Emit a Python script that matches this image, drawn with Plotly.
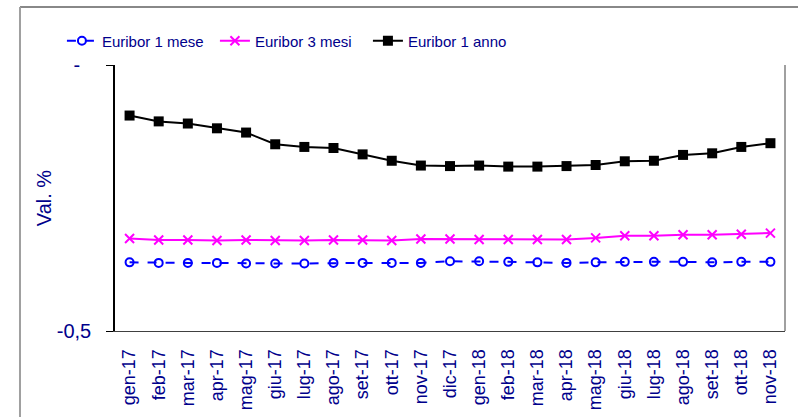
import plotly.graph_objects as go

months = ["gen-17", "feb-17", "mar-17", "apr-17", "mag-17", "giu-17", "lug-17", "ago-17",
          "set-17", "ott-17", "nov-17", "dic-17", "gen-18", "feb-18", "mar-18", "apr-18",
          "mag-18", "giu-18", "lug-18", "ago-18", "set-18", "ott-18", "nov-18"]

euribor_1m = [-0.371, -0.372, -0.372, -0.372, -0.373, -0.373, -0.373, -0.372, -0.372, -0.372,
              -0.372, -0.369, -0.369, -0.370, -0.371, -0.372, -0.371, -0.370, -0.370, -0.370,
              -0.371, -0.370, -0.370]
euribor_3m = [-0.326, -0.329, -0.329, -0.330, -0.329, -0.330, -0.330, -0.329, -0.329, -0.330,
              -0.327, -0.327, -0.328, -0.328, -0.328, -0.328, -0.325, -0.321, -0.321, -0.319,
              -0.319, -0.318, -0.316]
euribor_12m = [-0.095, -0.106, -0.110, -0.119, -0.127, -0.149, -0.154, -0.156, -0.168, -0.180,
               -0.189, -0.190, -0.189, -0.191, -0.191, -0.190, -0.188, -0.181, -0.180, -0.169,
               -0.166, -0.154, -0.147]

y_tickvals = [-0.5, 0]
y_ticktext = ["-0,5", "-\u00a0\u00a0"]

NAVY = "#00008B"
FONT = "Liberation Sans, Arial, sans-serif"

fig = go.Figure()
fig.add_trace(go.Scatter(
    x=months, y=euribor_1m, name="Euribor 1 mese", mode="lines+markers",
    line=dict(color="#0000FF", width=2, dash="dash"),
    marker=dict(symbol="circle-open", size=8, color="#0000FF", line=dict(width=2)),
))
fig.add_trace(go.Scatter(
    x=months, y=euribor_3m, name="Euribor 3 mesi", mode="lines+markers",
    line=dict(color="#FF00FF", width=2),
    marker=dict(symbol="x-thin-open", size=9, color="#FF00FF", line=dict(width=2, color="#FF00FF")),
))
fig.add_trace(go.Scatter(
    x=months, y=euribor_12m, name="Euribor 1 anno", mode="lines+markers",
    line=dict(color="#000000", width=2),
    marker=dict(symbol="square", size=10, color="#000000"),
))

n = len(months)
fig.update_layout(
    width=798, height=417,
    margin=dict(l=115, r=13, t=65, b=86),
    paper_bgcolor="white", plot_bgcolor="white",
    font=dict(family=FONT, color=NAVY),
    showlegend=True,
    legend=dict(
        orientation="h", xref="container", yref="container",
        x=0.0776, y=1 - 41 / 417, xanchor="left", yanchor="middle",
        font=dict(family=FONT, size=15, color=NAVY),
        entrywidth=108, bgcolor="rgba(0,0,0,0)",
    ),
    xaxis=dict(
        type="category", range=[-0.5, n - 0.5], automargin=False,
        showline=True, linecolor="#404040", linewidth=1,
        ticks="", showgrid=False, zeroline=False,
        tickangle=-90, tickfont=dict(size=18, color=NAVY),
        ticklabelstandoff=10,
    ),
    xaxis2=dict(
        overlaying="x", side="top", anchor="y", range=[-0.5, n - 0.5], automargin=False,
        tickmode="array", tickvals=[i + 0.5 for i in range(n - 1)],
        ticks="inside", ticklen=4, tickcolor="#808080", tickwidth=1,
        showticklabels=False, showline=True, linecolor="#000000", linewidth=1.5,
        showgrid=False, zeroline=False,
    ),
    yaxis=dict(
        range=[-0.5, 0], tickmode="array", tickvals=y_tickvals, ticktext=y_ticktext,
        automargin=False,
        showline=True, linecolor="#000000", linewidth=1.5,
        ticks="outside", ticklen=7, tickcolor="#000000",
        showgrid=False, zeroline=False,
        tickfont=dict(size=20, color=NAVY), ticklabelstandoff=11,
        title=dict(text="Val. %", font=dict(size=20, color=NAVY), standoff=0),
    ),
    shapes=[
        # plot area border (right grey)
        dict(type="line", xref="paper", yref="paper", x0=1, x1=1, y0=0, y1=1,
             line=dict(color="#808080", width=1.5), layer="above"),
        # outer chart frame
        dict(type="line", xref="paper", yref="paper", x0=-0.1418, x1=1.05, y0=1.218, y1=1.218,
             line=dict(color="#606060", width=1.5), layer="above"),
        dict(type="line", xref="paper", yref="paper", x0=-0.1418, x1=-0.1418, y0=-0.4, y1=1.218,
             line=dict(color="#A0A0A0", width=2), layer="above"),
    ],
)

fig.write_html("out.html", config={"displayModeBar": False},
               post_script="document.body.style.margin='0';")
